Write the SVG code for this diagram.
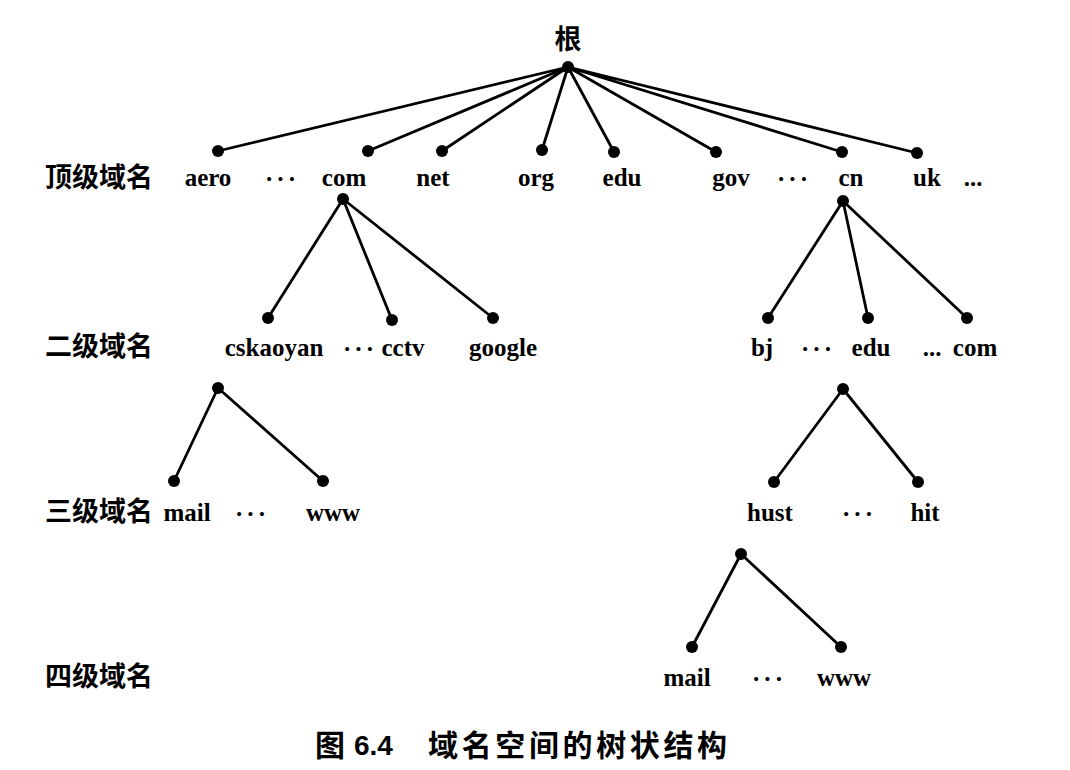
<svg xmlns="http://www.w3.org/2000/svg" width="1070" height="770" viewBox="0 0 1070 770">
<style>
.bg{fill:#ffffff}
.e{stroke:#000;stroke-width:2.8;fill:none;stroke-linecap:round}
.d{fill:#000}
.t{font-family:"Liberation Serif","Times New Roman",serif;font-weight:bold;font-size:25px;fill:#000;text-anchor:middle}
.el{font-family:"Liberation Serif",serif;font-weight:bold;font-size:25px;fill:#000;text-anchor:middle;letter-spacing:3px}
.zh{font-family:"Noto Sans CJK SC","Noto Sans CJK JP",sans-serif;font-weight:bold;font-size:27px;fill:#000}
.cap{font-family:"Noto Sans CJK SC",sans-serif;font-weight:bold;font-size:30px;fill:#000}
.capn{font-family:"Liberation Sans",sans-serif;font-weight:bold;font-size:28px;fill:#000}
</style>
<defs>
<circle id="dot" r="6"/>
</defs>
<rect class="bg" x="0" y="0" width="1070" height="770"/>

<g id="connectors">
<path class="e" d="M568,67 L218,151 M568,67 L368,151 M568,67 L442,151 M568,67 L542,150 M568,67 L614,152 M568,67 L716,152 M568,67 L842,152 M568,67 L917,153"/>
<path class="e" d="M343,199 L268,318 M343,199 L392,320 M343,199 L493,318"/>
<path class="e" d="M843,201 L768,318 M843,201 L868,318 M843,201 L967,318"/>
<path class="e" d="M218,388 L174,481 M218,388 L323,481"/>
<path class="e" d="M843,389 L774,482 M843,389 L918,482"/>
<path class="e" d="M741,554 L692,647 M741,554 L841,647"/>
</g>

<g id="root"><text class="zh" x="568" y="49" text-anchor="middle" font-size="25">根</text><use href="#dot" class="d" x="568" y="67"/></g>

<g id="level-labels">
<text class="zh" x="45" y="187">顶级域名</text>
<text class="zh" x="45" y="356">二级域名</text>
<text class="zh" x="45" y="521">三级域名</text>
<text class="zh" x="45" y="686">四级域名</text>
</g>

<g id="n-aero"><use href="#dot" class="d" x="218" y="151"/><text class="t" x="208" y="186">aero</text></g>
<g id="e1"><text class="el" x="282" y="187">···</text></g>
<g id="n-com"><use href="#dot" class="d" x="368" y="151"/><text class="t" x="344" y="186">com</text><use href="#dot" class="d" x="343" y="199"/></g>
<g id="n-net"><use href="#dot" class="d" x="442" y="151"/><text class="t" x="433" y="186">net</text></g>
<g id="n-org"><use href="#dot" class="d" x="542" y="150"/><text class="t" x="536" y="186">org</text></g>
<g id="n-edu"><use href="#dot" class="d" x="614" y="152"/><text class="t" x="622" y="186">edu</text></g>
<g id="n-gov"><use href="#dot" class="d" x="716" y="152"/><text class="t" x="731" y="186">gov</text></g>
<g id="e2"><text class="el" x="794" y="187">···</text></g>
<g id="n-cn"><use href="#dot" class="d" x="842" y="152"/><text class="t" x="851" y="186">cn</text><use href="#dot" class="d" x="843" y="201"/></g>
<g id="n-uk"><use href="#dot" class="d" x="917" y="153"/><text class="t" x="927" y="186">uk</text></g>
<g id="e3"><text class="t" x="973" y="186">...</text></g>

<g id="n-cskaoyan"><use href="#dot" class="d" x="268" y="318"/><text class="t" x="274" y="356">cskaoyan</text><use href="#dot" class="d" x="218" y="388"/></g>
<g id="e4"><text class="el" x="360" y="357">···</text></g>
<g id="n-cctv"><use href="#dot" class="d" x="392" y="320"/><text class="t" x="403" y="356">cctv</text></g>
<g id="n-google"><use href="#dot" class="d" x="493" y="318"/><text class="t" x="503" y="356">google</text></g>

<g id="n-bj"><use href="#dot" class="d" x="768" y="318"/><text class="t" x="762" y="356">bj</text></g>
<g id="e5"><text class="el" x="818" y="357">···</text></g>
<g id="n-cn-edu"><use href="#dot" class="d" x="868" y="318"/><text class="t" x="871" y="356">edu</text><use href="#dot" class="d" x="843" y="389"/></g>
<g id="e6"><text class="t" x="932" y="356">...</text></g>
<g id="n-cn-com"><use href="#dot" class="d" x="967" y="318"/><text class="t" x="975" y="356">com</text></g>

<g id="n-mail1"><use href="#dot" class="d" x="174" y="481"/><text class="t" x="187" y="521">mail</text></g>
<g id="e7"><text class="el" x="252" y="522">···</text></g>
<g id="n-www1"><use href="#dot" class="d" x="323" y="481"/><text class="t" x="333" y="521">www</text></g>

<g id="n-hust"><use href="#dot" class="d" x="774" y="482"/><text class="t" x="770" y="521">hust</text><use href="#dot" class="d" x="741" y="554"/></g>
<g id="e8"><text class="el" x="859" y="522">···</text></g>
<g id="n-hit"><use href="#dot" class="d" x="918" y="482"/><text class="t" x="925" y="521">hit</text></g>

<g id="n-mail2"><use href="#dot" class="d" x="692" y="647"/><text class="t" x="687" y="686">mail</text></g>
<g id="e9"><text class="el" x="769" y="687">···</text></g>
<g id="n-www2"><use href="#dot" class="d" x="841" y="647"/><text class="t" x="844" y="686">www</text></g>

<g id="caption">
<text class="cap" x="315" y="756">图</text>
<text class="capn" x="354" y="755">6.4</text>
<text class="cap" x="428" y="756" textLength="299">域名空间的树状结构</text>
</g>
</svg>
